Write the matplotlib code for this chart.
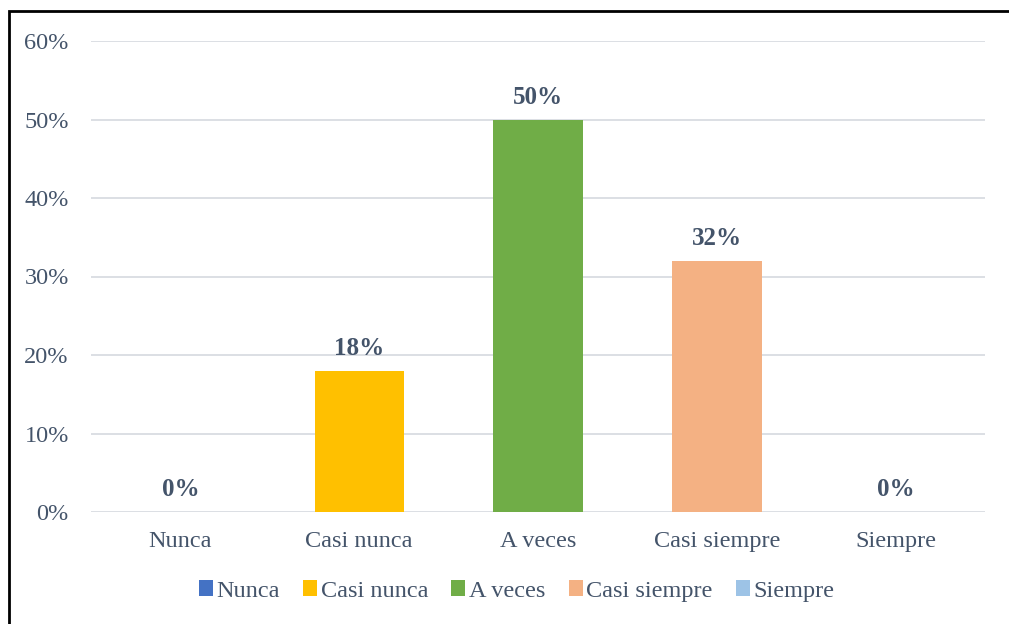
import matplotlib.pyplot as plt
from matplotlib.patches import Rectangle, Patch

categorias = ["Nunca", "Casi nunca", "A veces", "Casi siempre", "Siempre"]
valores = [0.0, 0.18, 0.50, 0.32, 0.0]
etiquetas = ["0%", "18%", "50%", "32%", "0%"]
colores = ["#4472C4", "#FFC000", "#70AD47", "#F4B183", "#9DC3E6"]
yticks = [0, 0.1, 0.2, 0.3, 0.4, 0.5, 0.6]

plt.rcParams['font.family'] = ['Liberation Serif', 'DejaVu Serif']
texto = "#44546A"

fig = plt.figure(figsize=(10.09, 6.24), dpi=100)
ax = fig.add_axes([91/1009, 1-512/624, 894/1009, 471/624])

x = range(len(categorias))
ax.bar(x, valores, width=0.5, color=colores, zorder=3)
for i, (v, t) in enumerate(zip(valores, etiquetas)):
    ax.text(i, v + 0.014, t, ha='center', va='bottom', fontsize=18,
            fontweight='bold', color=texto)

ax.set_xlim(-0.5, len(categorias) - 0.5)
ax.set_ylim(0, 0.6)
ax.set_yticks(yticks)
ax.set_yticklabels([f"{int(round(t*100))}%" for t in yticks])
ax.set_xticks(list(x))
ax.set_xticklabels(categorias)
ax.tick_params(axis='both', length=0, labelsize=17.5, labelcolor=texto)
ax.tick_params(axis='y', pad=16)
ax.tick_params(axis='x', pad=14)
ax.grid(axis='y', color='#DCDFE4', linewidth=1.4, zorder=0)
for s in ax.spines.values():
    s.set_visible(False)

handles = [Patch(facecolor=c, label=n) for c, n in zip(colores, categorias)]
fig.legend(handles=handles, loc='center', bbox_to_anchor=(0.512, 1-591/624),
           ncol=5, frameon=False, fontsize=17.5, handlelength=0.58,
           handleheight=0.58, handletextpad=0.15, columnspacing=0.95,
           labelcolor=texto)

# marco exterior del gráfico
fig.patches.append(Rectangle((9/1009, -0.1), 1.2, 1-11/624+0.1,
                             transform=fig.transFigure, fill=False,
                             edgecolor='black', linewidth=2))

fig.savefig("out.png", dpi=100, facecolor='white')
